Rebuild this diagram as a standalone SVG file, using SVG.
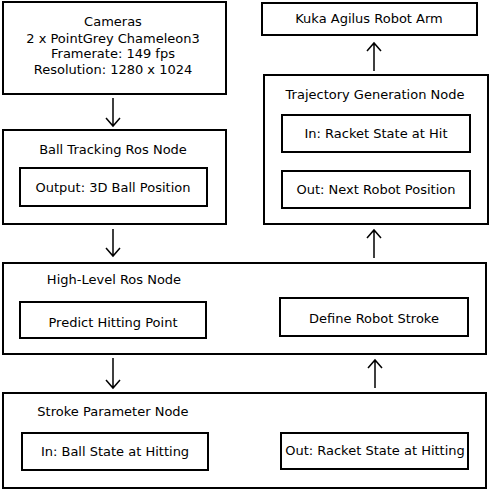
<svg xmlns="http://www.w3.org/2000/svg" width="490" height="490" viewBox="0 0 490 490">
<style>
.b{fill:#fff;stroke:#000;stroke-width:2}
.t{font-family:"DejaVu Sans",sans-serif;font-size:13px;fill:#000;text-anchor:middle}
.c{fill:none;stroke:#000;stroke-width:1.5}
</style>
<rect width="490" height="490" fill="#fff"/>
<g id="cameras">
<rect class="b" x="3" y="2" width="223" height="92"/>
<text class="t" x="113" y="26">Cameras</text>
<text class="t" x="113" y="43">2 x PointGrey Chameleon3</text>
<text class="t" x="113" y="58">Framerate: 149 fps</text>
<text class="t" x="113" y="74">Resolution: 1280 x 1024</text>
</g>
<g id="ball-tracking">
<rect class="b" x="3" y="130" width="223" height="94"/>
<text class="t" x="113" y="154">Ball Tracking Ros Node</text>
<rect class="b" x="20" y="168" width="187" height="38"/>
<text class="t" x="113" y="192">Output: 3D Ball Position</text>
</g>
<g id="high-level">
<rect class="b" x="3" y="263" width="483" height="91"/>
<text class="t" x="114" y="284">High-Level Ros Node</text>
<rect class="b" x="20" y="302" width="186" height="36"/>
<rect class="b" x="280" y="298" width="188" height="38"/>
<text class="t" x="113" y="327">Predict Hitting Point</text>
<text class="t" x="374" y="323">Define Robot Stroke</text>
</g>
<g id="stroke-param">
<rect class="b" x="3" y="393" width="483" height="95"/>
<text class="t" x="113" y="416">Stroke Parameter Node</text>
<rect class="b" x="22" y="433" width="186" height="37"/>
<text class="t" x="115" y="456">In: Ball State at Hitting</text>
<rect class="b" x="281" y="433" width="187" height="36"/>
<text class="t" x="375" y="455">Out: Racket State at Hitting</text>
</g>
<g id="trajectory">
<rect class="b" x="264" y="75" width="224" height="149"/>
<text class="t" x="375" y="99">Trajectory Generation Node</text>
<rect class="b" x="282" y="115" width="188" height="37"/>
<text class="t" x="376" y="138">In: Racket State at Hit</text>
<rect class="b" x="282" y="171" width="188" height="37"/>
<text class="t" x="376" y="194">Out: Next Robot Position</text>
</g>
<g id="kuka">
<rect class="b" x="262" y="3" width="215" height="32"/>
<text class="t" x="369" y="23">Kuka Agilus Robot Arm</text>
</g>
<g id="connectors">
<path class="c" d="M113 98V126M106 118L113 126L120 118"/>
<path class="c" d="M113 229V256M106 248L113 256L120 248"/>
<path class="c" d="M113 358V388M106 380L113 388L120 380"/>
<path class="c" d="M375 388V360M368 368L375 360L382 368"/>
<path class="c" d="M374 258V230M367 238L374 230L381 238"/>
<path class="c" d="M374 71V43M367 51L374 43L381 51"/>
</g>
</svg>
